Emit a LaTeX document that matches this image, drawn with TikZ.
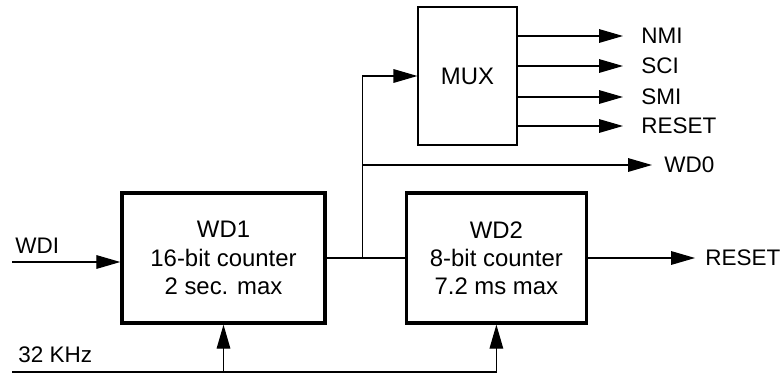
\documentclass[tikz,border=0pt]{standalone}
\usepackage{fontspec}
\setmainfont{Liberation Sans}
\usetikzlibrary{positioning, arrows.meta}
\tikzset{
    counter/.style={rectangle, minimum height=3.25cm, align=center, draw=black, line width=2.4pt},
    muxbox/.style={rectangle, minimum width=2.475cm, minimum height=3.45cm, draw=black, line width=0.8pt},
    wire/.style={line width=0.9pt},
    arrow/.style={line width=0.9pt, -{Triangle[length=0.6cm, width=0.34cm]}},
    sig/.style={anchor=west, inner sep=0pt, font=\fontsize{16}{19}\selectfont}
}
\begin{document}
\begin{tikzpicture}[font=\fontsize{17}{20}\selectfont]
        \useasboundingbox (0,0) rectangle (19.6,-9.35);

        \node (wdone) [counter, minimum width=5.075cm] at (5.5875,-6.45) {WD1\\16-bit counter\\2 sec. max};
        \node (wdtwo) [counter, minimum width=4.5cm, right=1.95cm of wdone] {WD2\\8-bit counter\\7.2 ms max};
        \node (mux) [muxbox] at (11.6875,-1.9) {MUX};

        % outputs
        \coordinate (nmi) at (15.575,-0.9);
        \coordinate (sci) at (15.575,-1.65);
        \coordinate (smi) at (15.575,-2.425);
        \coordinate (muxrst) at (15.575,-3.15);
        \coordinate (wdo) at (16.3,-4.125);
        \coordinate [right=2.675cm of wdtwo.east] (rstout);
        \coordinate [right=0.9cm of wdone.east] (branch);

        \node (nmilabel) [sig, right=0.45cm of nmi] {NMI};
        \node (scilabel) [sig, right=0.45cm of sci] {SCI};
        \node (smilabel) [sig, right=0.45cm of smi] {SMI};
        \node (muxrstlabel) [sig, right=0.45cm of muxrst] {RESET};
        \node (wdolabel) [sig, right=0.3cm of wdo] {WD0};
        \node (rstlabel) [sig, right=0.25cm of rstout] {RESET};

        % inputs
        \coordinate (wdi) at (0.3,-6.55);
        \coordinate (clk) at (0.3,-9.3);
        \node (wdilabel) [sig, anchor=base west] at (0.375,-6.33) {WDI};
        \node (clklabel) [sig, anchor=base west] at (0.45,-9.05) {32 KHz};

        \draw [wire] (wdone) -- (wdtwo);
        \draw [arrow] (branch) |- (mux.west);
        \draw [arrow] (branch) |- (wdo);
        \draw [arrow] (mux.east |- nmi) -- (nmi);
        \draw [arrow] (mux.east |- sci) -- (sci);
        \draw [arrow] (mux.east |- smi) -- (smi);
        \draw [arrow] (mux.east |- muxrst) -- (muxrst);
        \draw [arrow] (wdtwo.east) -- (rstout);
        \draw [arrow] (wdi) -- (wdi -| wdone.west);
        \draw [arrow] (clk) -| (wdtwo.south);
        \draw [arrow] (clk -| wdone.south) -- (wdone.south);
    \end{tikzpicture}
\end{document}
